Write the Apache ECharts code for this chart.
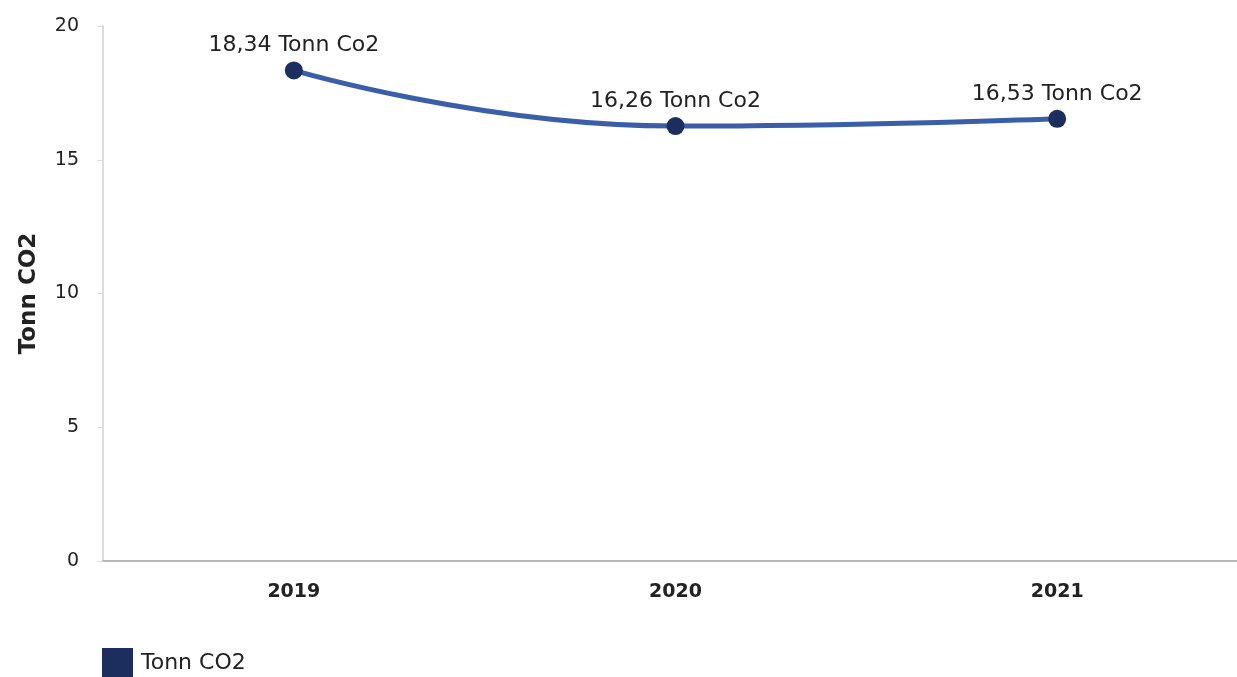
<!DOCTYPE html>
<html><head><meta charset="utf-8">
<script src="https://cdn.jsdelivr.net/npm/echarts@6/dist/echarts.min.js"></script>
<style>html,body{margin:0;padding:0;background:#fff;}#c{width:1237px;height:677px;}</style>
</head><body><div id="c"></div>
<script>
var categories = ['2019', '2020', '2021'];
var values = [18.34, 16.26, 16.53];
var yTicks = [0, 5, 10, 15, 20];
var seriesName = 'Tonn CO2';
var unitLabel = 'Tonn Co2';
var axisName = 'Tonn CO2';

var chart = echarts.init(document.getElementById('c'));
var font = 'DejaVu Sans, Verdana, sans-serif';
chart.setOption({
  animation: false,
  textStyle: { fontFamily: font },
  grid: { left: 103, top: 26, width: 1145, bottom: 116, containLabel: false, outerBoundsMode: 'none' },
  legend: {
    left: 97, top: 643, icon: 'rect', itemWidth: 31, itemHeight: 31, itemGap: 10,
    textStyle: { fontSize: 22, color: '#222', fontFamily: font, padding: [0, 0, 0, 3] },
    data: [seriesName]
  },
  xAxis: {
    type: 'category', data: categories, boundaryGap: true,
    axisLine: { lineStyle: { color: '#b8b8b8', width: 2 } },
    axisTick: { alignWithLabel: true, length: 5, lineStyle: { color: '#c8c8c8' } },
    axisLabel: { fontSize: 19, fontWeight: 'bold', color: '#222', margin: 22 },
    splitLine: { show: false }
  },
  yAxis: {
    type: 'value', min: yTicks[0], max: yTicks[yTicks.length - 1], interval: 5,
    name: axisName, nameLocation: 'middle', nameGap: 62, nameRotate: 90,
    nameTextStyle: { fontSize: 23, fontWeight: 'bold', color: '#222' },
    axisLine: { show: true, lineStyle: { color: '#dcdcdc', width: 2 } },
    axisTick: { show: true, length: 6, lineStyle: { color: '#dcdcdc' } },
    axisLabel: { fontSize: 19, color: '#222', margin: 24 },
    splitLine: { show: false }
  },
  series: [{
    name: seriesName, type: 'line', data: values, smooth: 0.5, smoothMonotone: 'x',
    symbol: 'circle', symbolSize: 18,
    itemStyle: { color: '#1b2e5e' },
    lineStyle: { color: '#3a5ea8', width: 5 },
    label: {
      show: true, position: 'top', distance: 5, fontSize: 22, color: '#222',
      formatter: function (p) { return p.value.toFixed(2).replace('.', ',') + ' ' + unitLabel; }
    }
  }]
});
</script></body></html>
